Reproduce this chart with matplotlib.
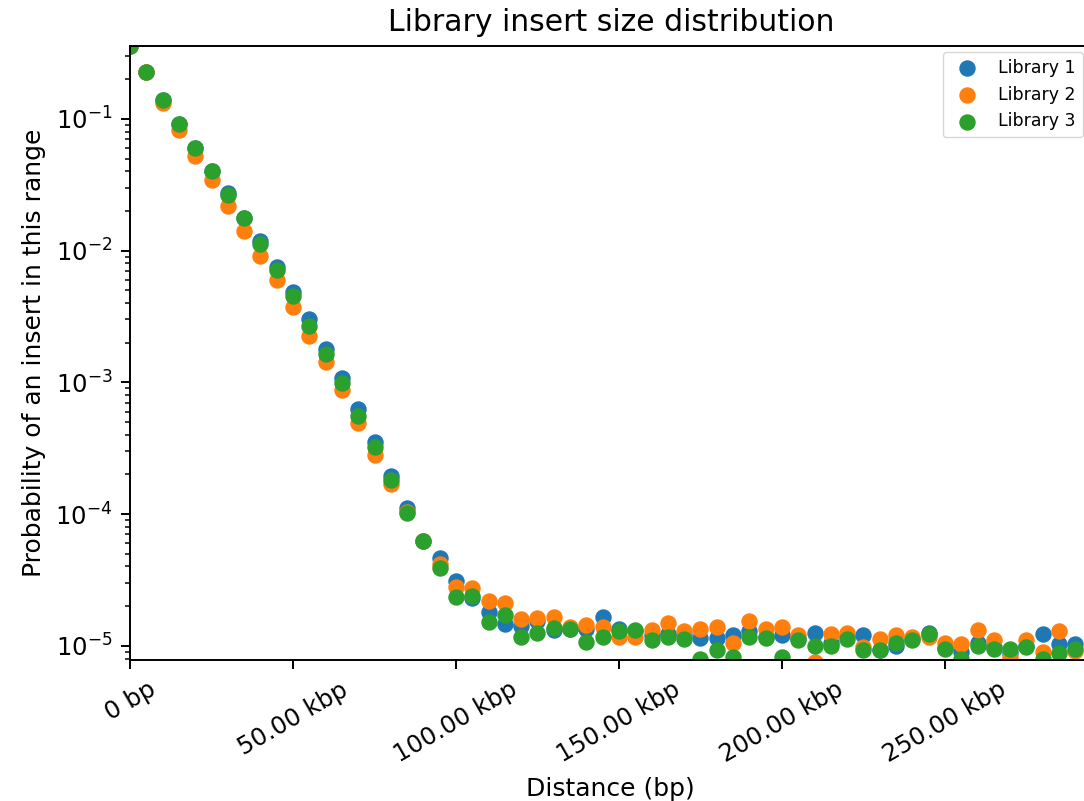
import matplotlib
matplotlib.use("Agg")
import matplotlib.pyplot as plt
from matplotlib.ticker import FuncFormatter

# insert size bins (bp), one every 5 kbp
distances = list(range(0, 295000, 5000))

library_1 = [0.36, 0.227, 0.139, 0.0917, 0.0603, 0.0403, 0.0275, 0.0178, 0.0119, 0.00757,
             0.00489, 0.0030, 0.00178, 0.00107, 0.000624, 0.000351, 0.000194, 0.000111, 6.24e-5, 4.64e-5,
             3.1e-5, 2.31e-5, 1.81e-5, 1.47e-5, 1.42e-5, 1.55e-5, 1.32e-5, 1.35e-5, 1.35e-5, 1.66e-5,
             1.35e-5, 1.3e-5, 1.2e-5, 1.22e-5, 1.22e-5, 1.15e-5, 1.15e-5, 1.2e-5, 1.3e-5, 1.17e-5,
             1.2e-5, 1.15e-5, 1.25e-5, 1.05e-5, 1.18e-5, 1.2e-5, 9.3e-6, 1.0e-5, 1.12e-5, 1.25e-5,
             9.7e-6, 9.0e-6, 1.05e-5, 9.8e-6, 8.8e-6, 1.0e-5, 1.22e-5, 1.03e-5, 1.03e-5]

library_2 = [0.36, 0.225, 0.132, 0.0826, 0.0524, 0.0345, 0.0219, 0.0142, 0.00916, 0.00593,
             0.0037, 0.00223, 0.00142, 0.00087, 0.00049, 0.00028, 0.000169, 0.000104, 6.2e-5, 4.18e-5,
             2.8e-5, 2.75e-5, 2.19e-5, 2.12e-5, 1.6e-5, 1.63e-5, 1.66e-5, 1.4e-5, 1.44e-5, 1.38e-5,
             1.17e-5, 1.17e-5, 1.32e-5, 1.5e-5, 1.29e-5, 1.35e-5, 1.4e-5, 1.05e-5, 1.55e-5, 1.35e-5,
             1.38e-5, 1.2e-5, 7.6e-6, 1.22e-5, 1.25e-5, 9.8e-6, 1.12e-5, 1.2e-5, 1.17e-5, 1.17e-5,
             1.05e-5, 1.04e-5, 1.32e-5, 1.1e-5, 8.2e-6, 1.1e-5, 9.0e-6, 1.3e-5, 9.2e-6]

library_3 = [0.36, 0.227, 0.139, 0.0917, 0.0603, 0.0403, 0.0266, 0.0178, 0.0113, 0.00718,
             0.00456, 0.0027, 0.00163, 0.00098, 0.000552, 0.000322, 0.000181, 0.000102, 6.24e-5, 3.9e-5,
             2.35e-5, 2.4e-5, 1.52e-5, 1.72e-5, 1.17e-5, 1.25e-5, 1.37e-5, 1.35e-5, 1.07e-5, 1.17e-5,
             1.3e-5, 1.32e-5, 1.1e-5, 1.17e-5, 1.12e-5, 7.9e-6, 9.3e-6, 8.2e-6, 1.17e-5, 1.15e-5,
             8.2e-6, 1.1e-5, 1.0e-5, 1.0e-5, 1.12e-5, 9.3e-6, 9.3e-6, 1.05e-5, 1.1e-5, 1.22e-5,
             9.5e-6, 8.0e-6, 1.0e-5, 9.5e-6, 9.4e-6, 9.8e-6, 8.0e-6, 8.8e-6, 9.5e-6]

labels = ["Library 1", "Library 2", "Library 3"]
x_ticks = [0, 50000, 100000, 150000, 200000, 250000]


def bp_format(x, pos):
    if x == 0:
        return "0 bp"
    return "%.2f kbp" % (x / 1000)


fig = plt.figure(figsize=(10.84, 8.01), dpi=100)
# axes runs slightly past the right edge, like the cropped original
ax = fig.add_axes([0.12, 0.176, 0.887, 0.7665])

for values, label in zip([library_1, library_2, library_3], labels):
    ax.scatter(distances, values, s=117, label=label)

ax.set_yscale("log")
ax.set_xlim(0, 295000)
ax.set_ylim(7.8e-6, 0.357)
ax.set_xticks(x_ticks)
ax.xaxis.set_major_formatter(FuncFormatter(bp_format))
ax.tick_params(axis="both", which="major", labelsize=17.5, length=6.3, width=1.4, pad=6.3)
ax.tick_params(axis="both", which="minor", length=3.6, width=1.1)
plt.setp(ax.get_xticklabels(), rotation=30)
for sp in ax.spines.values():
    sp.set_linewidth(1.4)

ax.set_title("Library insert size distribution", fontsize=21.5, pad=10.8)
ax.set_xlabel("Distance (bp)", fontsize=18, labelpad=7)
ax.set_ylabel("Probability of an insert in this range", fontsize=18, labelpad=7)

ax.legend(loc="upper right", bbox_to_anchor=(0.999, 0.935), bbox_transform=fig.transFigure,
          borderaxespad=0, fontsize=12.5)

fig.savefig("out.png", dpi=100)
